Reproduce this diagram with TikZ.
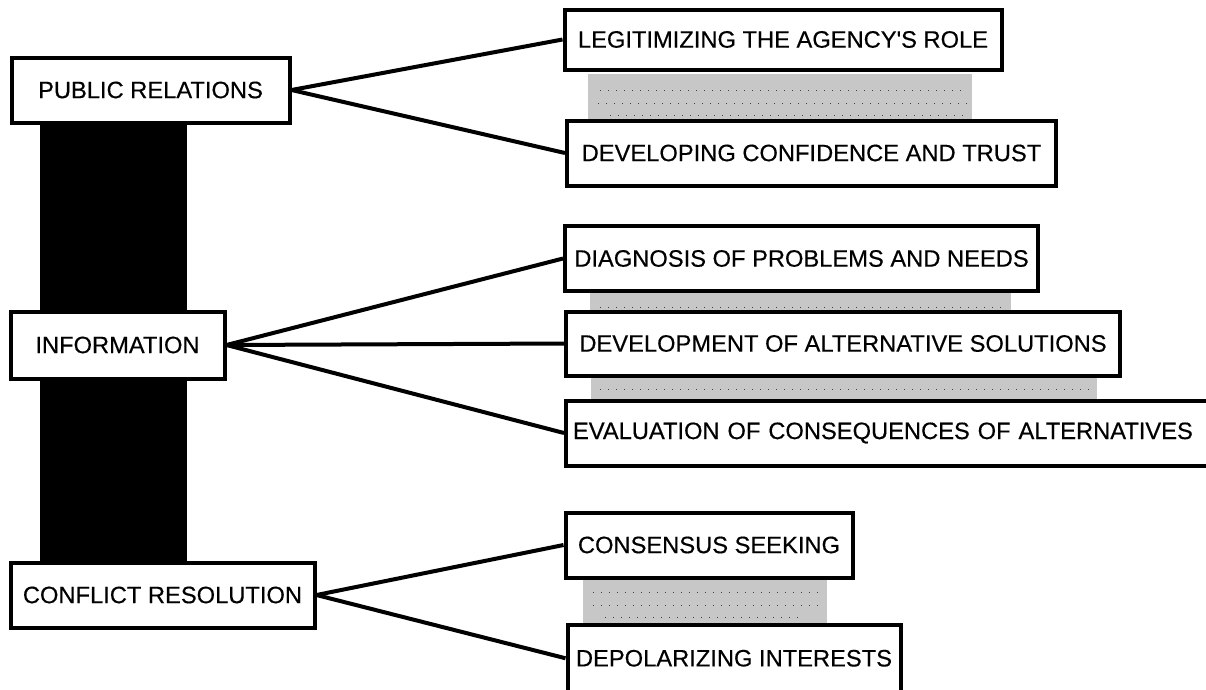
\documentclass[tikz,border=0pt]{standalone}
\usepackage{fontspec}
\setmainfont{Liberation Sans}[UprightFeatures={FakeBold=0.4}]
\usepackage{tikz}
\definecolor{BarGray}{rgb}{0.78,0.78,0.78}

\begin{document}
\begin{tikzpicture}[x=1pt,y=-1pt,
    box/.style={draw,line width=4pt,fill=white,inner sep=0pt,font=\fontsize{23.7}{28}\selectfont},
    link/.style={line width=4pt},
    shade/.style={fill=BarGray},
    dots/.style={black!75,line width=1pt,dash pattern=on 1pt off 7pt}]
      \useasboundingbox (0,0) rectangle (1206,689);
      \fill (39.5,100) rectangle (186.5,590);
      \fill[shade] (588,74) rectangle (972,125);
      \fill[shade] (590,290) rectangle (1011,312);
      \fill[shade] (591,376) rectangle (1097,401);
      \fill[shade] (583,576) rectangle (827,625);
      \draw[dots] (600,90)--(965,90) (598,103)--(968,103) (610,115)--(965,115);
      \draw[dots] (600,307)--(1005,307);
      \draw[dots] (600,389)--(1090,389);
      \draw[dots] (593,592)--(822,592) (593,605)--(822,605) (605,617)--(800,617);
      \node[box,minimum width=278pt,minimum height=65pt] (pr) at (150.5,90) {PUBLIC RELATIONS};
      \node[box,minimum width=214pt,minimum height=67pt] (info) at (117.5,345) {INFORMATION};
      \node[box,minimum width=304pt,minimum height=65pt] (conf) at (162.5,595) {CONFLICT RESOLUTION};
      \node[box,minimum width=437pt,minimum height=60pt] (legit) at (783,39.5) {LEGITIMIZING THE AGENCY\textquotesingle S ROLE};
      \node[box,minimum width=489pt,minimum height=65pt] (trust) at (811.5,153) {DEVELOPING CONFIDENCE AND TRUST};
      \node[box,minimum width=473pt,minimum height=65pt] (diag) at (801.5,258.5) {DIAGNOSIS OF PROBLEMS AND NEEDS};
      \node[box,minimum width=554pt,minimum height=64pt] (altsol) at (843,343.5) {DEVELOPMENT OF ALTERNATIVE SOLUTIONS};
      \node[box,anchor=west,text width=635pt,align=left,inner xsep=7pt,minimum height=65pt] (evalc) at (564,433) {EVALUATION OF CONSEQUENCES OF ALTERNATIVES};
      \node[box,minimum width=287pt,minimum height=65pt] (consens) at (709,545) {CONSENSUS SEEKING};
      \node[box,minimum width=333pt,minimum height=67.5pt] (depol) at (734,658.25) {DEPOLARIZING INTERESTS};
      \draw[link] (pr.east)--(legit.west);
      \draw[link] (pr.east)--(trust.west);
      \draw[link] (info.east)--(diag.west);
      \draw[link] (info.east)--(altsol.west);
      \draw[link] (info.east)--(evalc.west);
      \draw[link] (conf.east)--(consens.west);
      \draw[link] (conf.east)--(depol.west);
    \end{tikzpicture}
\end{document}
